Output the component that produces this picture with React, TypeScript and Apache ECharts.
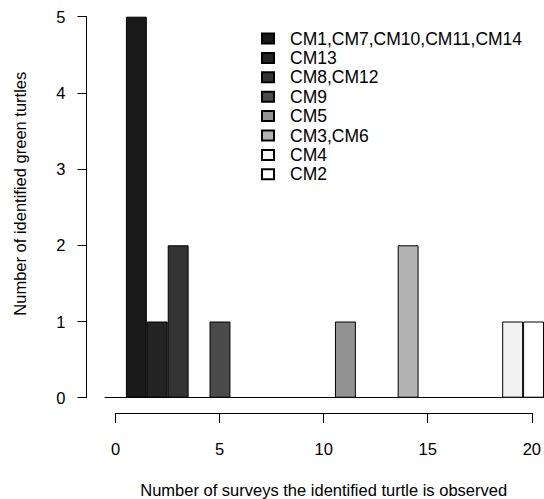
import React, { useEffect, useRef } from "react";
import * as echarts from "echarts";

const surveyCategories = [0, 1, 2, 3, 4, 5, 6, 7, 8, 9, 10, 11, 12, 13, 14, 15, 16, 17, 18, 19, 20];
const seriesNames = [
  "CM1,CM7,CM10,CM11,CM14",
  "CM13",
  "CM8,CM12",
  "CM9",
  "CM5",
  "CM3,CM6",
  "CM4",
  "CM2",
];
const seriesSurveys = [1, 2, 3, 5, 11, 14, 19, 20];
const seriesCounts = [5, 1, 2, 1, 1, 2, 1, 1];
const seriesColors = ["#1a1a1a", "#242424", "#333333", "#4b4b4b", "#929292", "#b3b3b3", "#f2f2f2", "#ffffff"];
const yTicks = [0, 1, 2, 3, 4, 5];
const xTicks = [0, 5, 10, 15, 20];

const FONT = "'Liberation Sans', Arial, Helvetica, sans-serif";

export default function App() {
  const ref = useRef<HTMLDivElement>(null);
  useEffect(() => {
    if (!ref.current) return;
    const chart = echarts.init(ref.current, undefined, { renderer: "svg" });
    const series = seriesNames.map((name, i) => ({
      name,
      type: "bar",
      stack: "all",
      xAxisIndex: 0,
      yAxisIndex: 0,
      barWidth: "100%",
      barCategoryGap: "0%",
      itemStyle: { color: seriesColors[i], borderColor: "#000", borderWidth: 1 },
      data: surveyCategories.map((c) => (c === seriesSurveys[i] ? seriesCounts[i] : null)),
    }));
    chart.setOption({
      animation: false,
      backgroundColor: "#ffffff",
      textStyle: { fontFamily: FONT },
      grid: [
        { left: 105, right: -1.5, top: 16.7, bottom: 101.3 },
        { left: 115.5, right: 10.3, top: 380, bottom: 85.7 },
      ],
      legend: {
        orient: "vertical",
        left: 256,
        top: 24.5,
        itemWidth: 12,
        itemHeight: 10,
        itemGap: 1.4,
        icon: "rect",
        data: seriesNames,
        textStyle: { fontFamily: FONT, fontSize: 17.5, color: "#000", lineHeight: 18, padding: [0, 0, 0, 11] },
      },
      xAxis: [
        {
          type: "category",
          gridIndex: 0,
          data: surveyCategories.map(String),
          boundaryGap: true,
          axisLine: { show: true, lineStyle: { color: "#000", width: 1 } },
          axisTick: { show: false },
          axisLabel: { show: false },
          splitLine: { show: false },
        },
        {
          type: "value",
          gridIndex: 1,
          min: 0,
          max: 20,
          interval: 5,
          position: "bottom",
          axisLine: { show: true, lineStyle: { color: "#000", width: 1 } },
          axisTick: { show: true, length: 10, lineStyle: { color: "#000" } },
          axisLabel: {
            show: true,
            margin: 27,
            fontSize: 16.5,
            color: "#000",
            fontFamily: FONT,
            customValues: xTicks,
          },
          splitLine: { show: false },
          name: "Number of surveys the identified turtle is observed",
          nameLocation: "middle",
          nameGap: 68,
          nameTextStyle: { fontSize: 16.5, color: "#000", fontFamily: FONT },
        },
      ],
      yAxis: [
        {
          type: "value",
          gridIndex: 0,
          min: 0,
          max: 5,
          interval: 1,
          offset: 18.5,
          axisLine: { show: true, lineStyle: { color: "#000", width: 1 } },
          axisTick: { show: true, length: 9, lineStyle: { color: "#000" } },
          axisLabel: {
            margin: 21,
            fontSize: 16.5,
            color: "#000",
            fontFamily: FONT,
            customValues: yTicks,
          },
          splitLine: { show: false },
          name: "Number of identified green turtles",
          nameLocation: "middle",
          nameGap: 58,
          nameTextStyle: { fontSize: 16.5, color: "#000", fontFamily: FONT, padding: [0, 0, 0, 27] },
        },
        { type: "value", gridIndex: 1, show: false },
      ],
      series,
    });
    return () => chart.dispose();
  }, []);
  return (
    <div
      ref={ref}
      style={{ position: "absolute", left: 0, top: 0, width: 544, height: 499, background: "#fff" }}
    />
  );
}
